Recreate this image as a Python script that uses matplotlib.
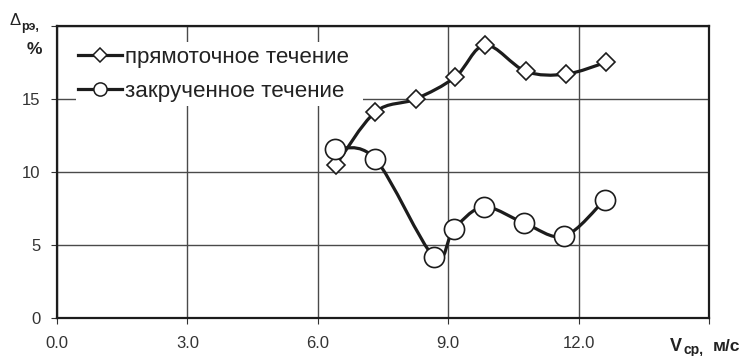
import numpy as np
import matplotlib
matplotlib.use("Agg")
import matplotlib.pyplot as plt
from matplotlib.path import Path
from matplotlib.patches import PathPatch, Rectangle
from matplotlib.lines import Line2D

plt.rcParams['font.family'] = ['Liberation Sans', 'DejaVu Sans']

# Средняя скорость, м/с, и относительное отклонение, %
x_direct = [6.42, 7.32, 8.25, 9.16, 9.85, 10.78, 11.70, 12.62]
y_direct = [10.5, 14.1, 15.0, 16.5, 18.7, 16.9, 16.7, 17.5]
x_swirl = [6.40, 7.32, 8.67, 9.13, 9.82, 10.75, 11.67, 12.60]
y_swirl = [11.6, 10.9, 4.2, 6.1, 7.6, 6.5, 5.6, 8.1]

label_direct = "прямоточное течение"
label_swirl = "закрученное течение"

x_ticks = [0.0, 3.0, 6.0, 9.0, 12.0, 15.0]
x_ticklabels = ["0.0", "3.0", "6.0", "9.0", "12.0", ""]
y_ticks = [0, 5, 10, 15, 20]
y_ticklabels = ["0", "5", "10", "15", ""]

INK = "#1c1c1c"
TXT = "#222222"
GRID = "#4a4a4a"


def smooth_path(x, y):
    """Сглаженная кривая (кубические Безье по схеме Катмулла-Рома)."""
    pts = np.column_stack([x, y]).astype(float)
    verts = [pts[0]]
    codes = [Path.MOVETO]
    n = len(pts)
    for i in range(n - 1):
        p0 = pts[i - 1] if i > 0 else pts[i]
        p1 = pts[i]
        p2 = pts[i + 1]
        p3 = pts[i + 2] if i + 2 < n else pts[i + 1]
        c1 = p1 + (p2 - p0) / 6.0
        c2 = p2 - (p3 - p1) / 6.0
        verts += [c1, c2, p2]
        codes += [Path.CURVE4] * 3
    return Path(np.array(verts), codes)


fig = plt.figure(figsize=(7.5, 3.56), dpi=100)
W, H = 750, 356
ax = fig.add_axes([57 / W, 1 - 318 / H, (709 - 57) / W, (318 - 26) / H])
ax.set_xlim(0, 15)
ax.set_ylim(0, 20)

ax.set_xticks(x_ticks)
ax.set_xticklabels(x_ticklabels)
ax.set_yticks(y_ticks)
ax.set_yticklabels(y_ticklabels)
ax.tick_params(axis='both', labelsize=12, colors="#333333", length=4, width=0.8)
ax.tick_params(axis='x', pad=9)
ax.tick_params(axis='y', pad=8)

ax.grid(True, color=GRID, linewidth=1.0, zorder=0)
ax.set_axisbelow(True)
for sp in ax.spines.values():
    sp.set_color(INK)
    sp.set_linewidth(1.6)

# белая подложка под легендой
ax.add_patch(Rectangle((0.029, 0.726), 0.44, 0.219, transform=ax.transAxes,
                       facecolor="white", edgecolor="none", zorder=1.5))

for xs, ys in ((x_direct, y_direct), (x_swirl, y_swirl)):
    ax.add_patch(PathPatch(smooth_path(xs, ys), fill=False, lw=2.3,
                           edgecolor=INK, zorder=2, capstyle='round',
                           joinstyle='round'))

ax.plot(x_direct, y_direct, linestyle='none', marker='D', ms=9.5,
        mfc='white', mec=INK, mew=1.2, zorder=3)
ax.plot(x_swirl, y_swirl, linestyle='none', marker='o', ms=14.5,
        mfc='white', mec=INK, mew=1.2, zorder=4)

handles = [
    Line2D([], [], color=INK, lw=2.3, marker='D', ms=7, mfc='white',
           mec=INK, mew=1.1),
    Line2D([], [], color=INK, lw=2.3, marker='o', ms=9.5, mfc='white',
           mec=INK, mew=1.1),
]
leg = ax.legend(handles, [label_direct, label_swirl], loc='upper left',
                bbox_to_anchor=(0.0184, 0.958), frameon=False, fontsize=16.1,
                handlelength=1.96, handletextpad=0.134, labelspacing=0.57,
                borderaxespad=0.0)
for t in leg.get_texts():
    t.set_color(TXT)

# подписи осей
fig.text(10 / W, 1 - 25 / H, "Δ", fontsize=12, color=TXT,
         ha='left', va='baseline')
fig.text(21 / W, 1 - 30 / H, "рэ,", fontsize=9, color=TXT,
         ha='left', va='baseline', fontweight='bold')
fig.text(34 / W, 1 - 50 / H, "%", fontsize=12.5, color=TXT,
         ha='center', va='center', fontweight='bold')

fig.text(670 / W, 1 - 351 / H, "V", fontsize=13, color=TXT,
         ha='left', va='baseline', fontweight='bold')
fig.text(684 / W, 1 - 354 / H, "ср,", fontsize=10, color=TXT,
         ha='left', va='baseline', fontweight='bold')
fig.text(713 / W, 1 - 351 / H, "м/с", fontsize=12.5, color=TXT,
         ha='left', va='baseline', fontweight='bold')

fig.savefig("out.png", dpi=100)
